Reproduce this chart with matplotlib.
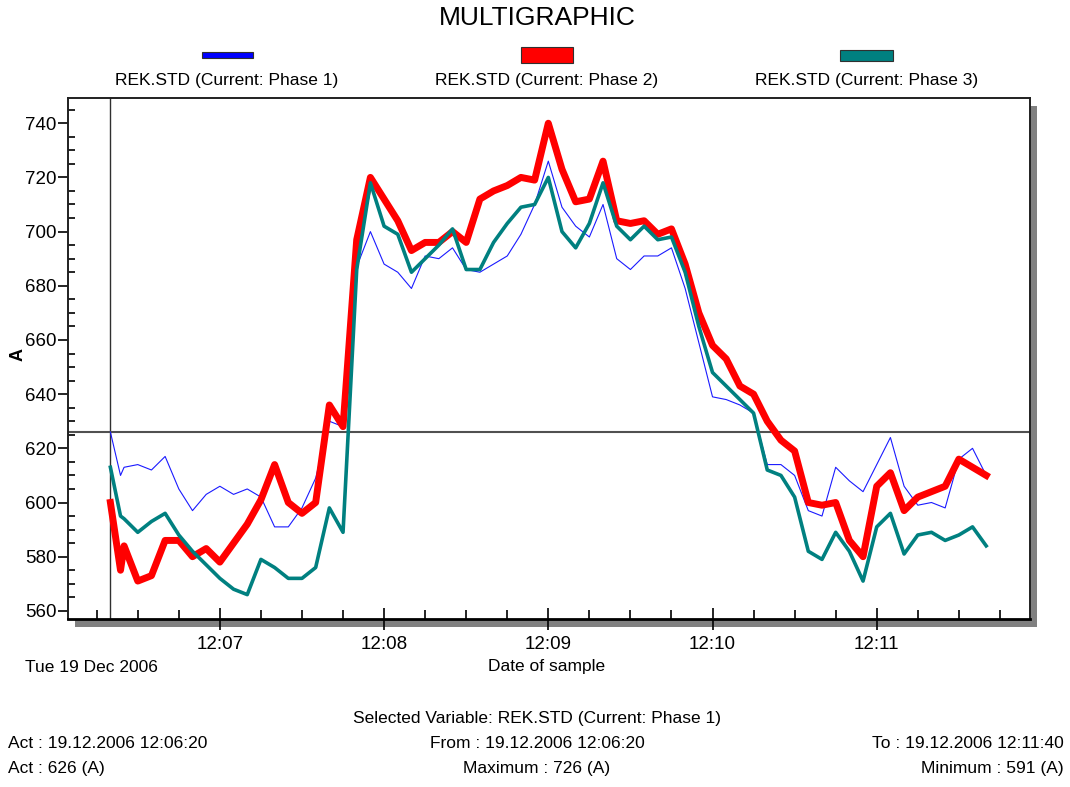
import datetime as dt

import matplotlib
matplotlib.use("Agg")
import matplotlib.pyplot as plt
import matplotlib.dates as mdates
from matplotlib.patches import Rectangle

plt.rcParams["font.family"] = ["Liberation Sans", "DejaVu Sans"]

# sample offsets (s) from 12:06:20, one extra reading just after the start
t_sec = [0, 3.7] + list(range(5, 325, 5))

phase1 = [626, 610, 613, 614, 612, 617, 605, 597, 603, 606, 603, 605, 602, 591, 591, 598,
          609, 630, 628, 687, 700, 688, 685, 679, 691, 690, 694, 686, 685, 688, 691, 699,
          710, 726, 709, 702, 698, 710, 690, 686, 691, 691, 694, 679, 659, 639, 638, 636,
          633, 614, 614, 610, 597, 595, 613, 608, 604, 614, 624, 606, 599, 600, 598, 616,
          620, 610]
phase2 = [600, 575, 584, 571, 573, 586, 586, 580, 583, 578, 585, 592, 601, 614, 600, 596,
          600, 636, 628, 697, 720, 712, 704, 693, 696, 696, 700, 696, 712, 715, 717, 720,
          719, 740, 723, 711, 712, 726, 704, 703, 704, 699, 701, 688, 670, 658, 653, 643,
          640, 630, 623, 619, 600, 599, 600, 586, 580, 606, 611, 597, 602, 604, 606, 616,
          613, 610]
phase3 = [613, 595, 594, 589, 593, 596, 588, 582, 577, 572, 568, 566, 579, 576, 572, 572,
          576, 598, 589, 686, 718, 702, 699, 685, 690, 695, 701, 686, 686, 696, 703, 709,
          710, 720, 700, 694, 703, 718, 702, 697, 702, 697, 698, 685, 665, 648, 643, 638,
          633, 612, 610, 602, 582, 579, 589, 582, 571, 591, 596, 581, 588, 589, 586, 588,
          591, 584]

series_names = ["REK.STD (Current: Phase 1)", "REK.STD (Current: Phase 2)",
                "REK.STD (Current: Phase 3)"]
cursor_value = 626

start = dt.datetime(2006, 12, 19, 12, 6, 20)
times = [start + dt.timedelta(seconds=s) for s in t_sec]

W, H = 1070, 787
fig = plt.figure(figsize=(W / 100, H / 100), dpi=100)
FS = 12.5


def fx(px):
    return px / W


def fy(py):
    return 1 - py / H


# plot box
left, right, top, bottom = 67.7, 1030, 98.3, 619
ax = fig.add_axes([fx(left), fy(bottom), fx(right - left), (bottom - top) / H])
ax.set_zorder(2)

# drop shadow behind the plot box
shadow = Rectangle((fx(left + 7), fy(bottom + 8)), fx(right - left), (bottom - top) / H,
                   transform=fig.transFigure, facecolor="#808080", edgecolor="none", zorder=1)
fig.patches.append(shadow)

ax.plot(times, phase1, color="#1a1aff", lw=0.8, zorder=3)
ax.plot(times, phase2, color="#ff0000", lw=5, zorder=4, solid_joinstyle="round")
ax.plot(times, phase3, color="#008080", lw=2.6, zorder=5, solid_joinstyle="round")

# cursor cross-hair
ax.axvline(start, color="#303030", lw=1, zorder=2)
ax.axhline(cursor_value, color="#505050", lw=1.5, zorder=2)

ax.set_ylim(557, 749.2)
ax.set_xlim(start - dt.timedelta(seconds=15.6), start + dt.timedelta(seconds=336))

ax.yaxis.set_major_locator(plt.MultipleLocator(20))
ax.yaxis.set_minor_locator(plt.MultipleLocator(5))
ax.xaxis.set_major_locator(mdates.MinuteLocator())
ax.xaxis.set_minor_locator(mdates.SecondLocator(bysecond=[15, 30, 45]))
ax.xaxis.set_major_formatter(mdates.DateFormatter("%H:%M"))

ax.tick_params(axis="y", which="major", direction="out", length=7, width=1.2,
               labelsize=13.5, pad=1)
ax.tick_params(axis="y", which="minor", direction="in", length=5, width=1.2)
ax.tick_params(axis="x", which="major", direction="inout", length=16, width=1.2,
               labelsize=13.5, pad=4)
ax.tick_params(axis="x", which="minor", direction="in", length=6.5, width=1.2)

for side in ("left", "right", "top"):
    ax.spines[side].set_linewidth(1.4)
    ax.spines[side].set_color("#202020")
ax.spines["bottom"].set_linewidth(2)

fig.text(fx(537), fy(18), "MULTIGRAPHIC", ha="center", va="center", fontsize=19)

# legend row
legend_items = [
    (202, 253, 52, 58, "#0000ff", 227),
    (521, 573, 47, 63, "#ff0000", 547),
    (840, 893, 50, 61, "#008080", 867),
]
for (x0, x1, y0, y1, col, cx), name in zip(legend_items, series_names):
    fig.patches.append(Rectangle((fx(x0), fy(y1)), fx(x1 - x0), (y1 - y0) / H,
                                 transform=fig.transFigure, facecolor=col,
                                 edgecolor="#303030", lw=0.8))
    fig.text(fx(cx), fy(80), name, ha="center", va="center", fontsize=FS)

fig.text(fx(18), fy(355), "A", rotation=90, ha="center", va="center",
         fontsize=13, fontweight="bold")
fig.text(fx(547), fy(667), "Date of sample", ha="center", va="center", fontsize=FS)
fig.text(fx(25), fy(667), "Tue 19 Dec 2006", ha="left", va="center", fontsize=FS)

# status lines
fig.text(fx(537), fy(718), "Selected Variable: REK.STD (Current: Phase 1)",
         ha="center", va="center", fontsize=FS)
fig.text(fx(8), fy(743), "Act : 19.12.2006 12:06:20", ha="left", va="center", fontsize=FS)
fig.text(fx(537), fy(743), "From : 19.12.2006 12:06:20", ha="center", va="center", fontsize=FS)
fig.text(fx(1064), fy(743), "To : 19.12.2006 12:11:40", ha="right", va="center", fontsize=FS)
fig.text(fx(8), fy(769), "Act : 626 (A)", ha="left", va="center", fontsize=FS)
fig.text(fx(537), fy(769), "Maximum : 726 (A)", ha="center", va="center", fontsize=FS)
fig.text(fx(1064), fy(769), "Minimum : 591 (A)", ha="right", va="center", fontsize=FS)

fig.savefig("out.png", dpi=100)
